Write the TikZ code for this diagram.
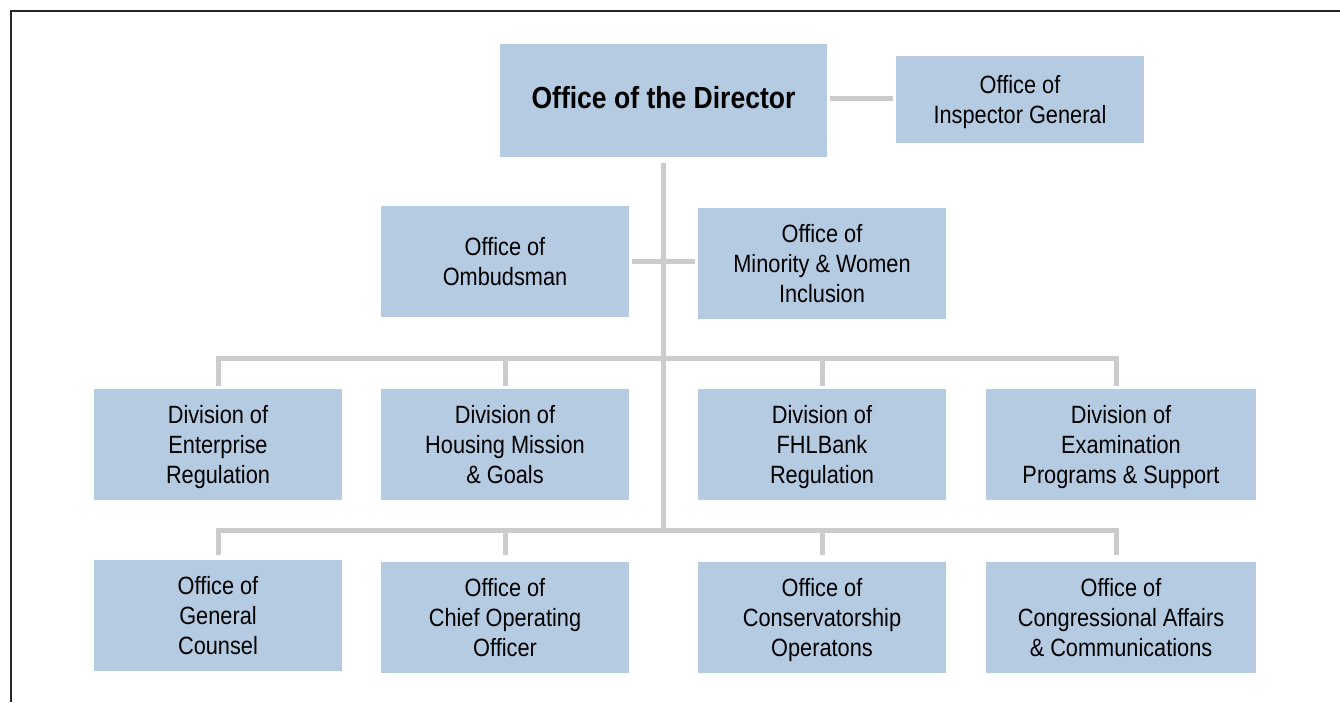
\documentclass[tikz,border=0pt]{standalone}
\usepackage{fontspec}
\setmainfont[FakeStretch=0.87]{Liberation Sans}
\definecolor{boxblue}{HTML}{B4CBE2}
\definecolor{linegray}{HTML}{CCCCCC}
\begin{document}
\begin{tikzpicture}[x=1pt,y=-1pt,
  box/.style={fill=boxblue, draw=none, inner sep=0pt, align=center,
    minimum width=248pt, minimum height=111pt, text depth=0pt,
    font=\fontsize{25}{29.7}\selectfont},
  conn/.style={draw=linegray, line width=5pt}]
\useasboundingbox (0,0) rectangle (1340,702);
% frame
\draw[line width=2pt, black!85] (11,702) -- (11,10.5) -- (1340,10.5);
% nodes
\node[box, minimum width=327pt, minimum height=113pt, text depth=6pt,
  font=\fontsize{30.5}{34}\selectfont\bfseries] (dir) at (663.5,100.5) {Office of the Director};
\node[box, minimum height=87pt] (ig) at (1020,99.5) {Office of\\Inspector General};
\node[box] (omb) at (505,261.5) {Office of\\Ombudsman};
\node[box] (min) at (822,263.5) {Office of\\Minority \& Women\\Inclusion};
\node[box] (d1) at (218,444.5) {Division of\\Enterprise\\Regulation};
\node[box] (d2) at (505,444.5) {Division of\\Housing Mission\\\& Goals};
\node[box] (d3) at (822,444.5) {Division of\\FHLBank\\Regulation};
\node[box, minimum width=270pt] (d4) at (1121,444.5) {Division of\\Examination\\Programs \& Support};
\node[box] (o1) at (218,615.5) {Office of\\General\\Counsel};
\node[box] (o2) at (505,617.5) {Office of\\Chief Operating\\Officer};
\node[box] (o3) at (822,617.5) {Office of\\Conservatorship\\Operatons};
\node[box, minimum width=270pt] (o4) at (1121,617.5) {Office of\\Congressional Affairs\\\& Communications};
% coordinates
\coordinate (db) at (663,358);
\coordinate (ob) at (663,530);
% connectors
\draw[conn, shorten <=3pt, shorten >=3pt] ([yshift=2.5pt]dir.east) -- ([yshift=2.5pt]dir.east -| ig.west);
\draw[conn, shorten <=6pt] (dir.south -| ob) -- (ob);
\draw[conn, shorten <=3pt, shorten >=3pt] (omb.east) -- (omb.east -| min.west);
\draw[conn, line cap=rect] (d1.north |- db) -- ([xshift=-5pt]d4.north |- db);
\draw[conn, line cap=rect] (o1.north |- ob) -- ([xshift=-5pt]o4.north |- ob);
\draw[conn, shorten >=3pt] (d1.north |- db) -- (d1.north);
\draw[conn, shorten >=3pt] (d2.north |- db) -- (d2.north);
\draw[conn, shorten >=3pt] (d3.north |- db) -- (d3.north);
\draw[conn, shorten >=3pt] ([xshift=-5pt]d4.north |- db) -- ([xshift=-5pt]d4.north);
\draw[conn, shorten >=5pt] (o1.north |- ob) -- (o1.north);
\draw[conn, shorten >=7pt] (o2.north |- ob) -- (o2.north);
\draw[conn, shorten >=7pt] (o3.north |- ob) -- (o3.north);
\draw[conn, shorten >=7pt] ([xshift=-5pt]o4.north |- ob) -- ([xshift=-5pt]o4.north);
\end{tikzpicture}
\end{document}
